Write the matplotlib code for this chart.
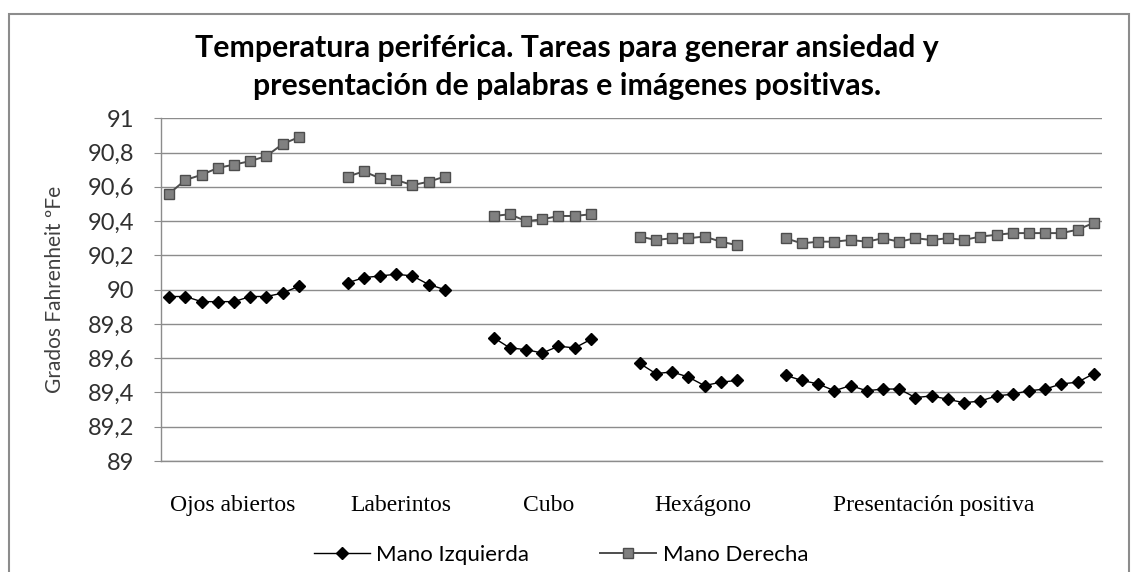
import matplotlib

matplotlib.use("Agg")
import matplotlib.pyplot as plt
import numpy as np
from matplotlib.patches import Rectangle
from matplotlib.ticker import FuncFormatter

# -----------------------------------------------------------------------------
# Data
# -----------------------------------------------------------------------------
tareas = ["Ojos abiertos", "Laberintos", "Cubo", "Hexágono", "Presentación positiva"]

izq_ojos = [89.96, 89.96, 89.93, 89.93, 89.93, 89.96, 89.96, 89.98, 90.02]
izq_laberintos = [90.04, 90.07, 90.08, 90.09, 90.08, 90.03, 90.00]
izq_cubo = [89.72, 89.66, 89.65, 89.63, 89.67, 89.66, 89.71]
izq_hexagono = [89.57, 89.51, 89.52, 89.49, 89.44, 89.46, 89.47]
izq_positiva = [89.50, 89.47, 89.45, 89.41, 89.44, 89.41, 89.42, 89.42, 89.37, 89.38,
                89.36, 89.34, 89.35, 89.38, 89.39, 89.41, 89.42, 89.45, 89.46, 89.51]

der_ojos = [90.56, 90.64, 90.67, 90.71, 90.73, 90.75, 90.78, 90.85, 90.89]
der_laberintos = [90.66, 90.69, 90.65, 90.64, 90.61, 90.63, 90.66]
der_cubo = [90.43, 90.44, 90.40, 90.41, 90.43, 90.43, 90.44]
der_hexagono = [90.31, 90.29, 90.30, 90.30, 90.31, 90.28, 90.26]
der_positiva = [90.30, 90.27, 90.28, 90.28, 90.29, 90.28, 90.30, 90.28, 90.30, 90.29,
                90.30, 90.29, 90.31, 90.32, 90.33, 90.33, 90.33, 90.33, 90.35, 90.39]

izquierda = [izq_ojos, izq_laberintos, izq_cubo, izq_hexagono, izq_positiva]
derecha = [der_ojos, der_laberintos, der_cubo, der_hexagono, der_positiva]

# -----------------------------------------------------------------------------
# Layout
# -----------------------------------------------------------------------------
GAP = 2  # empty category slots between tasks
LABEL_SHIFT = [-0.1, 0.3, 0.4, 0.9, -0.4]  # hand-placed task labels

SANS = ["Lato", "DejaVu Sans"]
SERIF = ["Liberation Serif", "DejaVu Serif"]


def with_gaps(segments):
    out = []
    for i, seg in enumerate(segments):
        out.extend(seg)
        if i < len(segments) - 1:
            out.extend([np.nan] * GAP)
    return np.array(out)


y_izq = with_gaps(izquierda)
y_der = with_gaps(derecha)
x = np.arange(len(y_izq))

centers = []
pos = 0
for seg in izquierda:
    centers.append(pos + (len(seg) - 1) / 2)
    pos += len(seg) + GAP

fig = plt.figure(figsize=(11.31, 5.72), dpi=100)
ax = fig.add_axes([161 / 1131, 111 / 572, 941 / 1131, 342.7 / 572])

(l_izq,) = ax.plot(x, y_izq, color="black", lw=1.0, marker="D", ms=6,
                   mfc="black", mec="black", label="Mano Izquierda", zorder=3)
(l_der,) = ax.plot(x, y_der, color="#4d4d4d", lw=1.4, marker="s", ms=7.3,
                   mfc="#808080", mec="#4d4d4d", mew=1.0, label="Mano Derecha", zorder=3)

ax.set_xlim(-0.5, len(x) - 0.5)
ax.set_ylim(89, 91)
ax.set_yticks(np.round(np.arange(89, 91.01, 0.2), 1))
ax.yaxis.set_major_formatter(
    FuncFormatter(lambda v, p: f"{v:.1f}".rstrip("0").rstrip(".").replace(".", ","))
)
ax.set_xticks([])
ax.yaxis.grid(True, color="#8c8c8c", lw=1.0)
ax.set_axisbelow(True)
for side in ["top", "right"]:
    ax.spines[side].set_visible(False)
for side in ["left", "bottom"]:
    ax.spines[side].set_color("#8c8c8c")
    ax.spines[side].set_linewidth(1.0)
ax.tick_params(axis="y", length=5, color="#8c8c8c", pad=14, labelsize=17,
               labelcolor="#303030")
for lbl in ax.get_yticklabels():
    lbl.set_family(SANS)

ax.set_ylabel("Grados Fahrenheit ºFe", fontsize=15, color="#404040", family=SANS)
ax.yaxis.set_label_coords(-0.102, 0.5)

for name, c, dx in zip(tareas, centers, LABEL_SHIFT):
    ax.text(c + dx, -0.131, name, transform=ax.get_xaxis_transform(),
            ha="center", va="center", fontsize=17, family=SERIF, color="black")

fig.text(0.501, 0.883,
         "Temperatura periférica. Tareas para generar ansiedad y\n"
         "presentación de palabras e imágenes positivas.",
         ha="center", va="center", fontsize=21.8, fontweight="bold",
         family=SANS, linespacing=1.42)

fig.legend(handles=[l_izq, l_der], loc="center",
           bbox_to_anchor=(561 / 1131, 1 - 555 / 572), ncol=2, frameon=False,
           handlelength=2.5, handletextpad=0.3, columnspacing=3.2,
           prop={"family": SANS, "size": 16})

fig.patches.append(Rectangle((8.5 / 1131, -0.02), (1129 - 8.5) / 1131, 1.02 - 13.5 / 572,
                             transform=fig.transFigure, fill=False,
                             edgecolor="#8c8c8c", lw=1.5))

plt.savefig("out.png", dpi=100)
plt.close()
